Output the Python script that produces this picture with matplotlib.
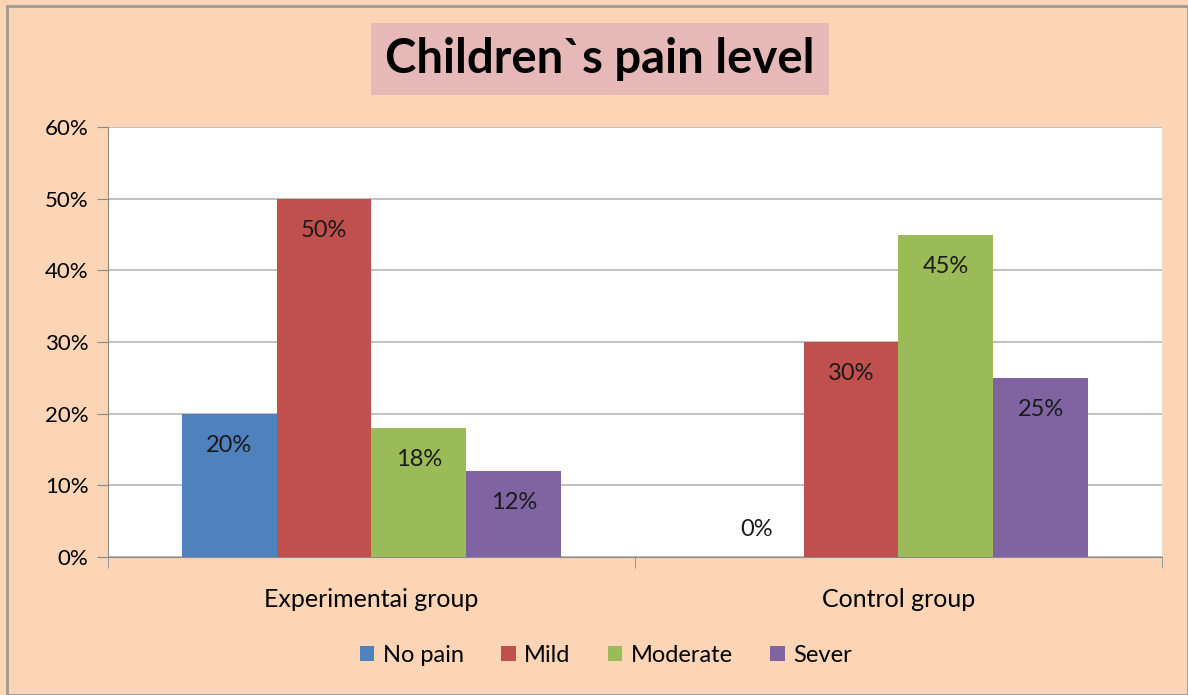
import numpy as np
import matplotlib.pyplot as plt
from matplotlib.patches import Rectangle
from matplotlib.ticker import PercentFormatter

plt.rcParams['font.family'] = ['Lato', 'DejaVu Sans']

groups = ["Experimentai group", "Control group"]
levels = ["No pain", "Mild", "Moderate", "Sever"]
no_pain = [20, 0]
mild = [50, 30]
moderate = [18, 45]
sever = [12, 25]
colors = ["#4F81BD", "#C0504D", "#9BBB59", "#8064A2"]

fig = plt.figure(figsize=(11.88, 6.95), dpi=100, facecolor="#FBD5B5")
fig.patches.append(Rectangle((0.006, 0.0), 0.994, 0.991, transform=fig.transFigure,
                             fill=False, edgecolor="#9a9a9a", linewidth=2))
ax = fig.add_axes([0.0909, 0.1986, 0.8871, 0.6186])

x = np.arange(len(groups))
w = 0.18
for i, (vals, c, lab) in enumerate(zip([no_pain, mild, moderate, sever], colors, levels)):
    pos = x + (i - 1.5) * w
    ax.bar(pos, vals, width=w, color=c, label=lab, zorder=3)
    for p, v in zip(pos, vals):
        ax.text(p, v - 4.4 if v > 5 else v + 3.9, f"{v}%", ha="center", va="center",
                fontsize=17, color="#1a1a1a", zorder=4)

ax.set_ylim(0, 60)
ax.set_xlim(-0.5, 1.5)
ax.set_yticks(range(0, 61, 10))
ax.yaxis.set_major_formatter(PercentFormatter(decimals=0))
ax.grid(axis="y", color="#b5b5b5", linewidth=1.2, zorder=0)
ax.set_xticks(x)
ax.set_xticklabels(groups)
ax.set_xticks([-0.5, 0.5, 1.5], minor=True)
ax.tick_params(axis="x", which="major", length=0, labelsize=18, pad=22)
ax.tick_params(axis="x", which="minor", length=8, color="#8a8a8a")
ax.tick_params(axis="y", length=8, color="#8a8a8a", labelsize=16, pad=6)
for s in ["top", "right"]:
    ax.spines[s].set_visible(False)
ax.spines["left"].set_color("#8a8a8a")
ax.spines["bottom"].set_color("#8a8a8a")

fig.text(0.505, 0.915, "Children`s pain level", ha="center", va="center",
         fontsize=34, fontweight="bold",
         bbox=dict(boxstyle="square,pad=0.3", facecolor="#E6B9B8", edgecolor="none"))

fig.legend(loc="center", bbox_to_anchor=(0.51, 0.057), ncol=4, frameon=False,
           fontsize=17, handlelength=0.6, handleheight=0.6, handletextpad=0.35,
           columnspacing=1.6)

fig.savefig("out.png", dpi=100, facecolor=fig.get_facecolor())
